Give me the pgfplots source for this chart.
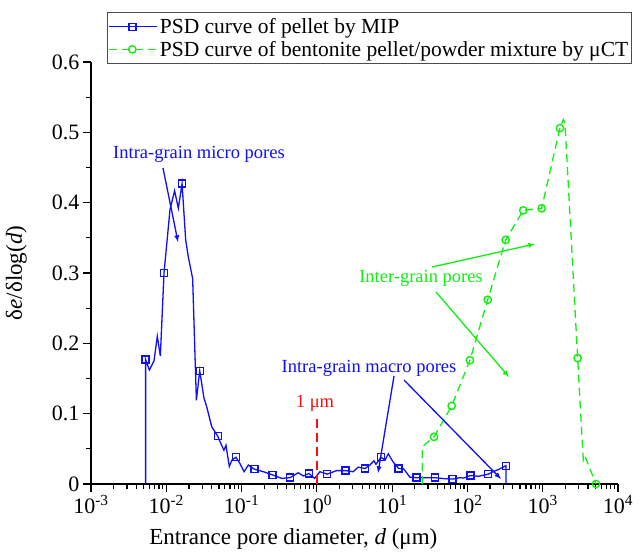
\documentclass[border=0pt]{standalone}
\usepackage{pgfplots}
\pgfplotsset{compat=1.18}
\usepackage{fontspec}
\setmainfont{Liberation Serif}
\definecolor{mipblue}{RGB}{15,15,250}
\definecolor{ctgreen}{RGB}{15,240,15}
\definecolor{redline}{RGB}{245,15,15}
\pgfplotsset{mylegimg/.style={legend image code/.code={\draw[##1] (0pt,0pt) -- (48pt,0pt); \draw[##1, only marks] plot coordinates {(23pt,0pt)};}}}
\begin{document}
\begin{tikzpicture}
\path[use as bounding box] (0,0) rectangle (644pt,554pt);
\begin{axis}[
  at={(91pt,70pt)}, anchor=south west,
  scale only axis, width=527pt, height=422pt,
  xmode=log, xmin=1e-3, xmax=1e4, ymin=0, ymax=0.6,
  axis x line*=bottom, axis y line*=left,
  axis line style={line width=1.6pt},
  tick align=outside, tick style={line width=1.2pt, black},
  major tick length=8pt, minor tick length=5pt,
  xtick={1e-3,1e-2,1e-1,1,1e1,1e2,1e3,1e4},
  minor xtick={2e-3,3e-3,4e-3,5e-3,6e-3,7e-3,8e-3,9e-3,
    2e-2,3e-2,4e-2,5e-2,6e-2,7e-2,8e-2,9e-2,
    0.2,0.3,0.4,0.5,0.6,0.7,0.8,0.9,2,3,4,5,6,7,8,9,
    20,30,40,50,60,70,80,90,200,300,400,500,600,700,800,900,
    2000,3000,4000,5000,6000,7000,8000,9000},
  xticklabels={10\textsuperscript{-3},10\textsuperscript{-2},10\textsuperscript{-1},10\textsuperscript{0},10\textsuperscript{1},10\textsuperscript{2},10\textsuperscript{3},10\textsuperscript{4}},
  ytick={0,0.1,0.2,0.3,0.4,0.5,0.6},
  yticklabels={0,0.1,0.2,0.3,0.4,0.5,0.6},
  minor y tick num=1,
  tick label style={font=\fontsize{22}{26}\selectfont},
  /pgf/number format/assume math mode=true,
  xlabel={Entrance pore diameter, \textit{d} (μm)},
  ylabel={δ\textit{e}/δlog(\textit{d})},
  label style={font=\fontsize{23}{27}\selectfont},
  xlabel style={at={(axis description cs:0.384,-0.098)}, anchor=north},
  ylabel style={at={(axis description cs:-0.115,0.5)}, anchor=south},
  legend style={at={(axis description cs:0.030,1.1185)}, anchor=north west,
    font=\fontsize{21.5}{27}\selectfont, draw=black!70, line width=0.8pt,
    row sep=2pt, inner xsep=1.5pt, inner ysep=4pt, cells={anchor=west}},
  legend cell align=left,
  clip=false,
]
\addlegendimage{mylegimg, mipblue, line width=1.2pt, mark=square, mark size=3.5pt, mark options={solid, fill=white, line width=1.4pt}}
\addlegendentry{PSD curve of pellet by MIP}
\addlegendimage{mylegimg, ctgreen, line width=1.2pt, dash pattern=on 8pt off 5pt, mark=o, mark size=3.7pt, mark options={solid, fill=white, line width=1.4pt}}
\addlegendentry{PSD curve of bentonite pellet/powder mixture by μCT}

% MIP line
\addplot[mipblue, line width=1.3pt, forget plot] coordinates {
(5.32e-3,0) (5.32e-3,0.177) (5.96e-3,0.162) (6.87e-3,0.175) (7.60e-3,0.210) (8.34e-3,0.182)
(9.33e-3,0.300) (1.12e-2,0.390) (1.29e-2,0.417) (1.445e-2,0.392) (1.62e-2,0.427)
(1.81e-2,0.347) (1.96e-2,0.323) (2.24e-2,0.292) (2.51e-2,0.119) (2.78e-2,0.161)
(3.17e-2,0.122) (3.44e-2,0.110) (4.01e-2,0.0815) (4.82e-2,0.068) (5.28e-2,0.058)
(5.83e-2,0.048) (6.21e-2,0.055) (6.87e-2,0.025) (7.46e-2,0.034) (8.43e-2,0.038)
(9.53e-2,0.029) (0.108,0.0175) (0.123,0.027) (0.148,0.021) (0.195,0.0175)
(0.256,0.013) (0.341,0.008) (0.440,0.009) (0.566,0.016) (0.661,0.0114) (0.785,0.015)
(0.933,0.008) (1.10,0.0175) (1.37,0.014) (1.83,0.019) (2.41,0.019) (3.04,0.0175)
(3.54,0.024) (4.36,0.022) (5.07,0.027) (5.74,0.033) (6.10,0.028) (7.11,0.038)
(8.04,0.034) (8.89,0.043) (10.2,0.032) (12.2,0.022) (14.1,0.022) (17.3,0.0095)
(21.1,0.009) (28.2,0.009) (37.1,0.009) (50.1,0.0075) (63.7,0.007) (79.4,0.009)
(89.1,0.0085) (110,0.012) (141,0.011) (189,0.014) (224,0.018) (263,0.021)
(325,0.026) (325,0)
};
\addplot[mipblue, only marks, mark=square, mark size=3.5pt, mark options={fill=white, line width=1.4pt}, forget plot] coordinates {
(5.32e-3,0.177) (9.33e-3,0.300) (1.62e-2,0.427) (2.78e-2,0.161) (4.82e-2,0.068)
(8.43e-2,0.038) (0.148,0.021) (0.256,0.013) (0.440,0.009) (0.785,0.015)
(1.37,0.014) (2.41,0.019) (4.36,0.022) (7.11,0.038) (12.2,0.022) (21.1,0.009)
(37.1,0.009) (63.7,0.007) (110,0.012) (189,0.014) (325,0.026)
};
% muCT line
\addplot[ctgreen, line width=1.3pt, dash pattern=on 8pt off 5pt, forget plot] coordinates {
(25.1,0) (25.1,0.053) (36.0,0.067) (61.8,0.111) (108,0.176) (186,0.262) (322,0.347)
(552,0.389) (968,0.392) (1694,0.506) (1875,0.518) (1977,0.513) (2911,0.179)
(3459,0.034) (3631,0.040) (5093,0)
};
\addplot[ctgreen, only marks, mark=o, mark size=3.7pt, mark options={fill=white, line width=1.4pt}, forget plot] coordinates {
(36.0,0.067) (61.8,0.111) (108,0.176) (186,0.262) (322,0.347)
(552,0.389) (968,0.392) (1694,0.506) (2911,0.179) (5093,0)
};
% 1 um line
\addplot[redline, line width=1.8pt, dash pattern=on 9pt off 5pt, forget plot] coordinates {(1,0) (1,0.095)};
\end{axis}
% annotations (pixel -> pt: x, 554-y)
\node[redline, font=\fontsize{18.5}{21}\selectfont] at (315pt,151pt) {1 μm};
\node[mipblue, font=\fontsize{18.5}{21}\selectfont] at (199pt,400pt) {Intra-grain micro pores};
\draw[mipblue, line width=1.3pt, -latex] (163pt,386pt) -- (178pt,312pt);
\node[mipblue, font=\fontsize{18.5}{21}\selectfont] at (369pt,186pt) {Intra-grain macro pores};
\draw[mipblue, line width=1.3pt, -latex] (394pt,178pt) -- (378pt,81pt);
\draw[mipblue, line width=1.3pt, -latex] (404pt,174pt) -- (501pt,75pt);
\node[ctgreen, font=\fontsize{18.5}{21}\selectfont] at (421pt,276pt) {Inter-grain pores};
\draw[ctgreen, line width=1.3pt, -latex] (432pt,287pt) -- (535pt,310pt);
\draw[ctgreen, line width=1.3pt, -latex] (436pt,262pt) -- (509pt,177pt);
\end{tikzpicture}
\end{document}
